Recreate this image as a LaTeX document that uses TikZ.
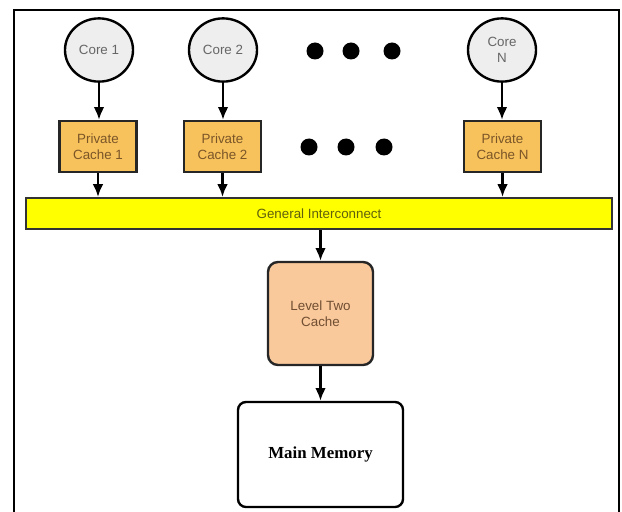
\documentclass[tikz,border=0pt]{standalone}
\usepackage{fontspec}
\setmainfont{Liberation Serif}
\setsansfont{Liberation Sans}
\usepackage{xcolor}
\usepackage{tikz}
\usetikzlibrary{calc}
\usetikzlibrary{shapes,arrows,arrows.meta,positioning}
\usetikzlibrary{shapes.geometric}

\definecolor{coregray}{HTML}{EEEEEE}
\definecolor{coretext}{HTML}{666666}
\definecolor{cachefill}{HTML}{F7C25C}
\definecolor{cachetext}{HTML}{7A5528}
\definecolor{busfill}{HTML}{FFFF00}
\definecolor{bustext}{HTML}{60600E}
\definecolor{ltwofill}{HTML}{F9C89B}
\definecolor{ltwotext}{HTML}{704E32}

\begin{document}
\begin{tikzpicture}[x=0.025cm,y=-0.025cm,
	core/.style={ellipse,draw=black,line width=1.7pt,fill=coregray,minimum width=1.7cm,minimum height=1.58cm,inner sep=0pt,align=center,text=coretext,font=\sffamily\fontsize{9.5}{11.3}\selectfont},
	pcache/.style={rectangle,draw=black!85,line width=1.7pt,fill=cachefill,minimum width=1.925cm,minimum height=1.275cm,inner sep=0pt,align=center,text=cachetext,font=\sffamily\fontsize{9.5}{11.3}\selectfont},
	bus/.style={rectangle,draw=black!80,line width=1.6pt,fill=busfill,minimum width=14.65cm,minimum height=0.775cm,inner sep=0pt,text=bustext,font=\sffamily\fontsize{9.5}{11.3}\selectfont},
	ltwo/.style={rectangle,rounded corners=0.25cm,draw=black!85,line width=1.7pt,fill=ltwofill,minimum width=2.625cm,minimum height=2.575cm,inner sep=0pt,align=center,text=ltwotext,font=\sffamily\fontsize{9.5}{11.3}\selectfont},
	mem/.style={rectangle,rounded corners=0.2cm,draw=black,line width=1.7pt,fill=white,minimum width=4.125cm,minimum height=2.625cm,inner sep=0pt,font=\bfseries\fontsize{12}{14}\selectfont},
	link/.style={-{Latex[length=9pt,width=7.5pt]},line width=1.5pt}]
		\useasboundingbox (0,0) rectangle (622,511);
		\draw[line width=1.6pt] (14,515) -- (14,10) -- (619,10) -- (619,515);
		\node[core] (core1) at (99,50) {Core 1};
		\node[core] (core2) at (223,50) {Core 2};
		\node[core] (coreN) at (502,50) {Core\\N};
		\fill[black] (315,51) circle (8.5);
		\fill[black] (351,51) circle (8.5);
		\fill[black] (392,51) circle (8.5);
		\node[pcache] (cache1) at (98,146.5) {Private\\Cache 1};
		\node[pcache] (cache2) at (222.5,146.5) {Private\\Cache 2};
		\node[pcache] (cacheN) at (502.5,146.5) {Private\\Cache N};
		\fill[black] (309,147) circle (8.5);
		\fill[black] (346,147) circle (8.5);
		\fill[black] (384,147) circle (8.5);
		\node[bus] (bus) at (319,213.5) {General Interconnect};
		\node[ltwo] (ltwo) at (320.5,313.5) {Level Two\\Cache};
		\node[mem] (mem) at (320.5,454.5) {Main Memory};
		\draw[link] (core1) -- (core1 |- cache1.north);
		\draw[link] (core2) -- (core2 |- cache2.north);
		\draw[link] (coreN) -- (coreN |- cacheN.north);
		\draw[link] (cache1) -- (cache1 |- bus.north);
		\draw[link] (cache2) -- (cache2 |- bus.north);
		\draw[link] (cacheN) -- (cacheN |- bus.north);
		\draw[link] (ltwo.north |- bus.south) -- (ltwo.north);
		\draw[link] (ltwo.south) -- (mem.north);
\end{tikzpicture}
\end{document}
